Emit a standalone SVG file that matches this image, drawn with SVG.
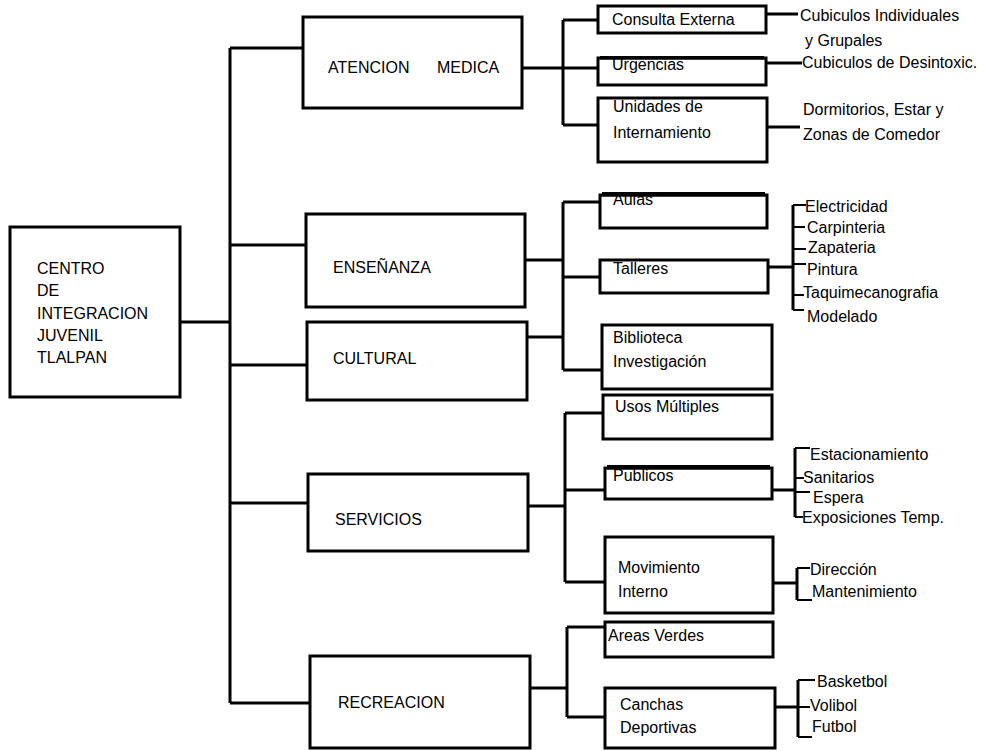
<svg xmlns="http://www.w3.org/2000/svg" width="984" height="751" viewBox="0 0 984 751">
<style>
.box{fill:#fff;stroke:#000;stroke-width:3}
.ln{fill:none;stroke:#000;stroke-width:3}
.lt{fill:none;stroke:#000;stroke-width:2.2}
text{font-family:"Liberation Sans",Arial,sans-serif;font-size:16px;fill:#000}
</style>
<rect width="984" height="751" fill="#fff"/>
<g id="connectors">
<path class="ln" d="M180 322H230M230 48V703M230 48H303M230 245H306M230 365H307M230 503H308M230 703H310"/>
<path class="ln" d="M522 68H563M563 20V125M563 20H598M563 68H598M563 125H598"/>
<path class="ln" d="M766 14H798M766 63H802M767 127H800"/>
<path class="ln" d="M525 260H563M527 337H563M563 202V370M563 202H600M563 277H600M563 370H602"/>
<path class="ln" d="M768 267H793M793 205V310"/>
<path class="lt" d="M793 205H806M793 227H805M793 249H806M793 264H806M793 295H804M793 310H804"/>
<path class="ln" d="M528 506H565M565 413V582M565 413H603M565 490H605M565 582H605"/>
<path class="ln" d="M772 490H795M795 448V517"/>
<path class="lt" d="M795 448H810M795 478H804M795 492H810M795 517H803"/>
<path class="ln" d="M773 583H797M797 568V600"/>
<path class="lt" d="M797 568H810M797 600H812"/>
<path class="ln" d="M530 688H567M567 627V717M567 627H605M567 717H605"/>
<path class="ln" d="M775 707H798M798 680V737"/>
<path class="lt" d="M798 680H815M798 707H810M798 737H812"/>
</g>
<g id="centro"><rect class="box" x="10" y="227" width="170" height="170"/>
<text x="37" y="274">CENTRO</text><text x="37" y="296">DE</text><text x="37" y="319">INTEGRACION</text><text x="37" y="341">JUVENIL</text><text x="37" y="363">TLALPAN</text></g>
<g id="atencion"><rect class="box" x="303" y="17" width="219" height="91"/><text x="328" y="73">ATENCION<tspan x="437">MEDICA</tspan></text></g>
<g id="ensenanza"><rect class="box" x="306" y="214" width="219" height="93"/><text x="333" y="273">ENSEÑANZA</text></g>
<g id="cultural"><rect class="box" x="307" y="322" width="220" height="78"/><text x="333" y="364">CULTURAL</text></g>
<g id="servicios"><rect class="box" x="308" y="474" width="220" height="77"/><text x="335" y="525">SERVICIOS</text></g>
<g id="recreacion"><rect class="box" x="310" y="656" width="220" height="92"/><text x="338" y="708">RECREACION</text></g>
<g id="consulta"><rect class="box" x="598" y="6" width="168" height="27"/><text x="612" y="25">Consulta Externa</text></g>
<g id="urgencias"><rect class="box" x="598" y="58" width="168" height="27"/><text x="612" y="70">Urgencias</text><rect x="600" y="56" width="164" height="3.5" fill="#000"/></g>
<g id="unidades"><rect class="box" x="598" y="98" width="169" height="64"/><text x="613" y="112">Unidades de</text><text x="613" y="138">Internamiento</text></g>
<g id="aulas"><rect class="box" x="600" y="195" width="167" height="33"/><text x="613" y="205">Aulas</text><rect x="602" y="192" width="163" height="4.5" fill="#000"/></g>
<g id="talleres"><rect class="box" x="600" y="260" width="168" height="33"/><text x="613" y="274">Talleres</text></g>
<g id="biblioteca"><rect class="box" x="602" y="325" width="170" height="64"/><text x="613" y="343">Biblioteca</text><text x="613" y="367">Investigación</text></g>
<g id="usos"><rect class="box" x="603" y="395" width="169" height="44"/><text x="615" y="412">Usos Múltiples</text></g>
<g id="publicos"><rect class="box" x="605" y="468" width="167" height="31"/><text x="613" y="481">Publicos</text><rect x="607" y="465" width="163" height="4.5" fill="#000"/></g>
<g id="movimiento"><rect class="box" x="605" y="537" width="168" height="76"/><text x="618" y="573">Movimiento</text><text x="618" y="597">Interno</text></g>
<g id="areas"><rect class="box" x="605" y="622" width="168" height="35"/><text x="608" y="641">Areas Verdes</text></g>
<g id="canchas"><rect class="box" x="605" y="688" width="170" height="60"/><text x="620" y="710">Canchas</text><text x="620" y="733">Deportivas</text></g>
<g id="leaves">
<text x="800" y="21">Cubiculos Individuales</text><text x="805" y="46">y Grupales</text>
<text x="802" y="68">Cubiculos de Desintoxic.</text>
<text x="803" y="115">Dormitorios, Estar y</text><text x="803" y="140">Zonas de Comedor</text>
<text x="805" y="212">Electricidad</text><text x="807" y="233">Carpinteria</text><text x="808" y="253">Zapateria</text><text x="807" y="275">Pintura</text><text x="803" y="298">Taquimecanografia</text><text x="807" y="322">Modelado</text>
<text x="810" y="460">Estacionamiento</text><text x="803" y="483">Sanitarios</text><text x="813" y="503">Espera</text><text x="802" y="523">Exposiciones Temp.</text>
<text x="810" y="575">Dirección</text><text x="812" y="597">Mantenimiento</text>
<text x="817" y="687">Basketbol</text><text x="810" y="711">Volibol</text><text x="812" y="732">Futbol</text>
</g>
</svg>
